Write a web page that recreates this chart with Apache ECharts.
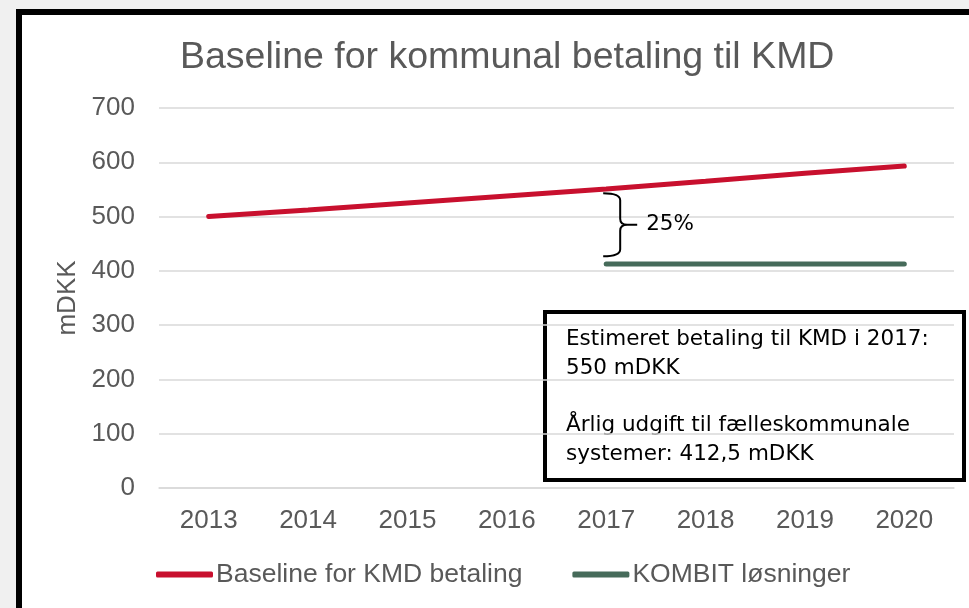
<!DOCTYPE html>
<html>
<head>
<meta charset="utf-8">
<script src="https://cdn.jsdelivr.net/npm/echarts@6/dist/echarts.min.js"></script>
<style>
  html, body { margin: 0; padding: 0; width: 969px; height: 608px; overflow: hidden; background: #f0f0f0; }
  #frame { position: absolute; left: 16px; top: 9px; width: 1000px; height: 700px; border: 6px solid #000; background: #fff; }
  #chart { position: absolute; left: 0; top: 0; width: 969px; height: 608px; }
</style>
</head>
<body>
<div id="frame"></div>
<div id="chart"></div>
<script>
var years = ['2013', '2014', '2015', '2016', '2017', '2018', '2019', '2020']
var baseline = [500, 512, 525, 538, 551, 565, 580, 593]
var kombit = [null, null, null, null, 412.5, 412.5, 412.5, 412.5]
var yTicks = [0, 700, 100] // min, max, interval
var brace = [4, 543, 427] // category index, top value, bottom value
var braceLabel = '25%'
var noteLines = [
  'Estimeret betaling til KMD i 2017:',
  '550 mDKK',
  '',
  'Årlig udgift til fælleskommunale',
  'systemer: 412,5 mDKK'
]

var gray = '#595959'
var arial = '"Liberation Sans", Arial, sans-serif'
var boxFont = '"DejaVu Sans", sans-serif'

var chart = echarts.init(document.getElementById('chart'))
var option = {
  animation: false,
  title: {
    text: 'Baseline for kommunal betaling til KMD',
    left: 175,
    top: 34,
    textStyle: { color: gray, fontSize: 37.5, fontWeight: 'normal', fontFamily: arial }
  },
  legend: {
    data: ['Baseline for KMD betaling', 'KOMBIT løsninger'],
    left: 151,
    top: 556,
    icon: 'roundRect',
    itemWidth: 57,
    itemHeight: 6,
    itemGap: 50,
    textStyle: { color: gray, fontSize: 26.5, fontFamily: arial, padding: [0, 0, 0, -2] }
  },
  grid: { left: 159, right: 15, top: 108, bottom: 120 },
  xAxis: {
    type: 'category',
    data: years,
    boundaryGap: true,
    axisLine: { lineStyle: { color: '#d9d9d9', width: 1.5 } },
    axisTick: { show: false },
    axisLabel: { color: gray, fontSize: 26, margin: 20, fontFamily: arial }
  },
  yAxis: {
    type: 'value',
    min: yTicks[0],
    max: yTicks[1],
    interval: yTicks[2],
    name: 'mDKK',
    nameLocation: 'middle',
    nameRotate: 90,
    nameGap: 78,
    nameTextStyle: { color: gray, fontSize: 26, fontFamily: arial },
    axisLine: { show: false },
    axisTick: { show: false },
    axisLabel: { color: gray, fontSize: 26, margin: 24, fontFamily: arial },
    splitLine: { lineStyle: { color: '#d9d9d9', width: 1.5 } }
  },
  series: [
    {
      name: 'Baseline for KMD betaling',
      type: 'line',
      data: baseline,
      symbol: 'none',
      color: '#c8102e',
      lineStyle: { width: 5, cap: 'round', color: '#c8102e' }
    },
    {
      name: 'KOMBIT løsninger',
      type: 'line',
      data: kombit,
      symbol: 'none',
      color: '#466b5a',
      lineStyle: { width: 5, cap: 'round', color: '#466b5a' }
    },
    {
      type: 'custom',
      silent: true,
      data: [brace],
      renderItem: function (params, api) {
        var top = api.coord([api.value(0), api.value(1)])
        var bot = api.coord([api.value(0), api.value(2)])
        var xL = top[0] - 3, xV = xL + 17, xT = xL + 34
        var yT = top[1], yB = bot[1], yM = (yT + yB) / 2
        var d = 'M' + xL + ' ' + yT + ' Q' + xV + ' ' + yT + ' ' + xV + ' ' + (yT + 7) +
          ' L' + xV + ' ' + (yM - 6) + ' Q' + xV + ' ' + yM + ' ' + (xV + 7) + ' ' + yM +
          ' L' + xT + ' ' + yM +
          ' M' + (xV + 7) + ' ' + yM + ' Q' + xV + ' ' + yM + ' ' + xV + ' ' + (yM + 6) +
          ' L' + xV + ' ' + (yB - 7) + ' Q' + xV + ' ' + yB + ' ' + xL + ' ' + yB
        return {
          type: 'group',
          children: [
            { type: 'path', shape: { pathData: d }, style: { fill: null, stroke: '#000', lineWidth: 2 } },
            {
              type: 'text',
              x: xT + 9,
              y: yM,
              style: { text: braceLabel, fill: '#000', font: '21.5px ' + boxFont, verticalAlign: 'middle' }
            }
          ]
        }
      }
    }
  ],
  graphic: [
    {
      type: 'group',
      left: 543,
      top: 310,
      children: [
        { type: 'rect', shape: { x: 0, y: 0, width: 419, height: 168 }, style: { fill: '#fff', stroke: '#000', lineWidth: 4 } },
        {
          type: 'text',
          x: 21,
          y: 13,
          style: { text: noteLines.join('\n'), fill: '#000', font: '21.5px ' + boxFont, lineHeight: 28.7 }
        }
      ]
    }
  ]
}
chart.setOption(option)
</script>
</body>
</html>
